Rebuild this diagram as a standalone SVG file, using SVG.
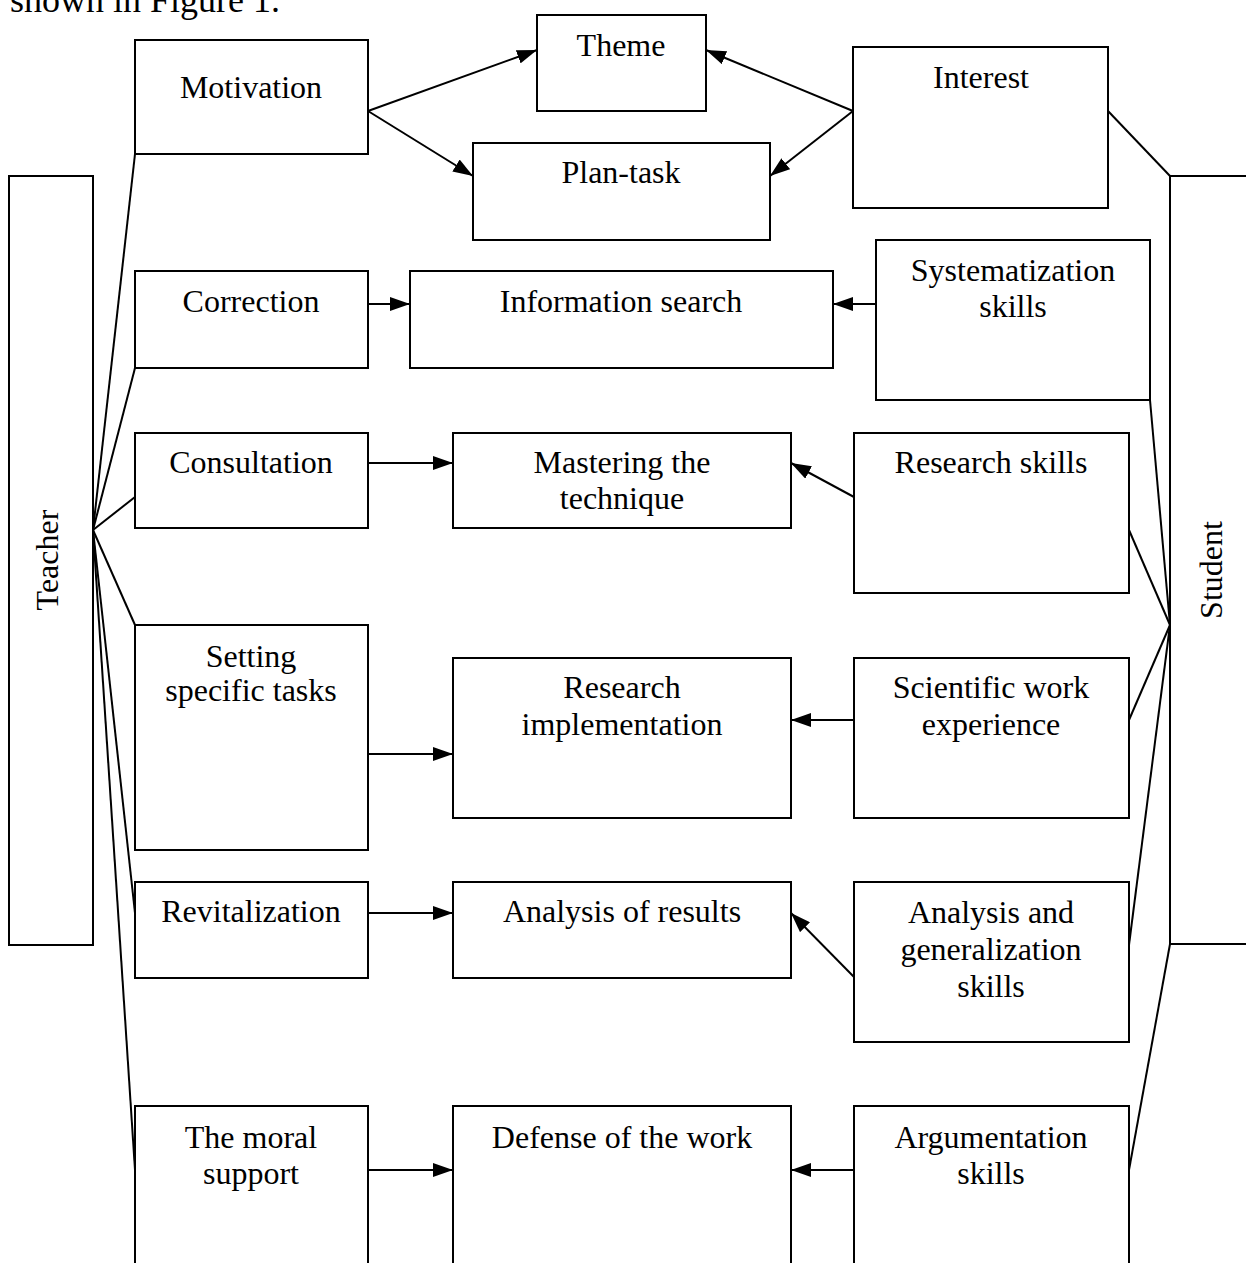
<svg xmlns="http://www.w3.org/2000/svg" width="1246" height="1263" viewBox="0 0 1246 1263">
<defs>
<style>
.b{fill:#fff;stroke:#000;stroke-width:2}
.t{font-family:"Liberation Serif","Times New Roman",serif;font-size:32px;fill:#000;text-anchor:middle}
.c{stroke:#000;stroke-width:2;fill:none}
</style>
<marker id="ah" viewBox="0 0 20 14" refX="20" refY="7" markerWidth="20" markerHeight="14" markerUnits="userSpaceOnUse" orient="auto">
<path d="M0,0 L20,7 L0,14 Z" fill="#000"/>
</marker>
</defs>
<rect width="1246" height="1263" fill="#fff"/>
<text x="10" y="12" style="font-family:'Liberation Serif','Times New Roman',serif;font-size:36px">shown in Figure 1.</text>

<g id="connectors">
<g class="c">
<line x1="93" y1="530" x2="135" y2="154"/>
<line x1="93" y1="530" x2="135" y2="368"/>
<line x1="93" y1="530" x2="135" y2="497"/>
<line x1="93" y1="530" x2="135" y2="625"/>
<line x1="93" y1="530" x2="135" y2="913"/>
<line x1="93" y1="530" x2="135" y2="1170"/>
<line x1="1108" y1="111" x2="1170" y2="176"/>
<line x1="1150" y1="400" x2="1170" y2="625"/>
<line x1="1129" y1="530" x2="1170" y2="625"/>
<line x1="1129" y1="720" x2="1170" y2="625"/>
<line x1="1129" y1="945" x2="1170" y2="625"/>
<line x1="1129" y1="1170" x2="1170" y2="944"/>
</g>
<g class="c" marker-end="url(#ah)">
<line x1="368" y1="111" x2="537" y2="50"/>
<line x1="368" y1="111" x2="473" y2="176"/>
<line x1="853" y1="111" x2="706" y2="50"/>
<line x1="853" y1="111" x2="770" y2="176"/>
<line x1="368" y1="304" x2="410" y2="304"/>
<line x1="876" y1="304" x2="833" y2="304"/>
<line x1="368" y1="463" x2="453" y2="463"/>
<line x1="854" y1="497" x2="791" y2="463"/>
<line x1="368" y1="754" x2="453" y2="754"/>
<line x1="854" y1="720" x2="791" y2="720"/>
<line x1="368" y1="913" x2="453" y2="913"/>
<line x1="854" y1="977" x2="791" y2="913"/>
<line x1="368" y1="1170" x2="453" y2="1170"/>
<line x1="854" y1="1170" x2="791" y2="1170"/>
</g>
</g>

<g id="teacher"><rect class="b" x="9" y="176" width="84" height="769"/><text class="t" transform="translate(58,560) rotate(-90)">Teacher</text></g>
<g id="student"><rect class="b" x="1170" y="176" width="100" height="768"/><text class="t" transform="translate(1222,570) rotate(-90)">Student</text></g>

<g id="motivation"><rect class="b" x="135" y="40" width="233" height="114"/><text class="t" x="251" y="98">Motivation</text></g>
<g id="theme"><rect class="b" x="537" y="15" width="169" height="96"/><text class="t" x="621" y="56">Theme</text></g>
<g id="plantask"><rect class="b" x="473" y="143" width="297" height="97"/><text class="t" x="621" y="183">Plan-task</text></g>
<g id="interest"><rect class="b" x="853" y="47" width="255" height="161"/><text class="t" x="981" y="88">Interest</text></g>

<g id="correction"><rect class="b" x="135" y="271" width="233" height="97"/><text class="t" x="251" y="312">Correction</text></g>
<g id="infosearch"><rect class="b" x="410" y="271" width="423" height="97"/><text class="t" x="621" y="312">Information search</text></g>
<g id="systematization"><rect class="b" x="876" y="240" width="274" height="160"/><text class="t" x="1013" y="281">Systematization</text><text class="t" x="1013" y="317">skills</text></g>

<g id="consultation"><rect class="b" x="135" y="433" width="233" height="95"/><text class="t" x="251" y="473">Consultation</text></g>
<g id="mastering"><rect class="b" x="453" y="433" width="338" height="95"/><text class="t" x="622" y="473">Mastering the</text><text class="t" x="622" y="509">technique</text></g>
<g id="researchskills"><rect class="b" x="854" y="433" width="275" height="160"/><text class="t" x="991" y="473">Research skills</text></g>

<g id="setting"><rect class="b" x="135" y="625" width="233" height="225"/><text class="t" x="251" y="667">Setting</text><text class="t" x="251" y="701">specific tasks</text></g>
<g id="researchimpl"><rect class="b" x="453" y="658" width="338" height="160"/><text class="t" x="622" y="698">Research</text><text class="t" x="622" y="735">implementation</text></g>
<g id="scientific"><rect class="b" x="854" y="658" width="275" height="160"/><text class="t" x="991" y="698">Scientific work</text><text class="t" x="991" y="735">experience</text></g>

<g id="revitalization"><rect class="b" x="135" y="882" width="233" height="96"/><text class="t" x="251" y="922">Revitalization</text></g>
<g id="analysisresults"><rect class="b" x="453" y="882" width="338" height="96"/><text class="t" x="622" y="922">Analysis of results</text></g>
<g id="analysisgen"><rect class="b" x="854" y="882" width="275" height="160"/><text class="t" x="991" y="923">Analysis and</text><text class="t" x="991" y="960">generalization</text><text class="t" x="991" y="997">skills</text></g>

<g id="moral"><rect class="b" x="135" y="1106" width="233" height="200"/><text class="t" x="251" y="1148">The moral</text><text class="t" x="251" y="1184">support</text></g>
<g id="defense"><rect class="b" x="453" y="1106" width="338" height="200"/><text class="t" x="622" y="1148">Defense of the work</text></g>
<g id="argumentation"><rect class="b" x="854" y="1106" width="275" height="200"/><text class="t" x="991" y="1148">Argumentation</text><text class="t" x="991" y="1184">skills</text></g>
</svg>
